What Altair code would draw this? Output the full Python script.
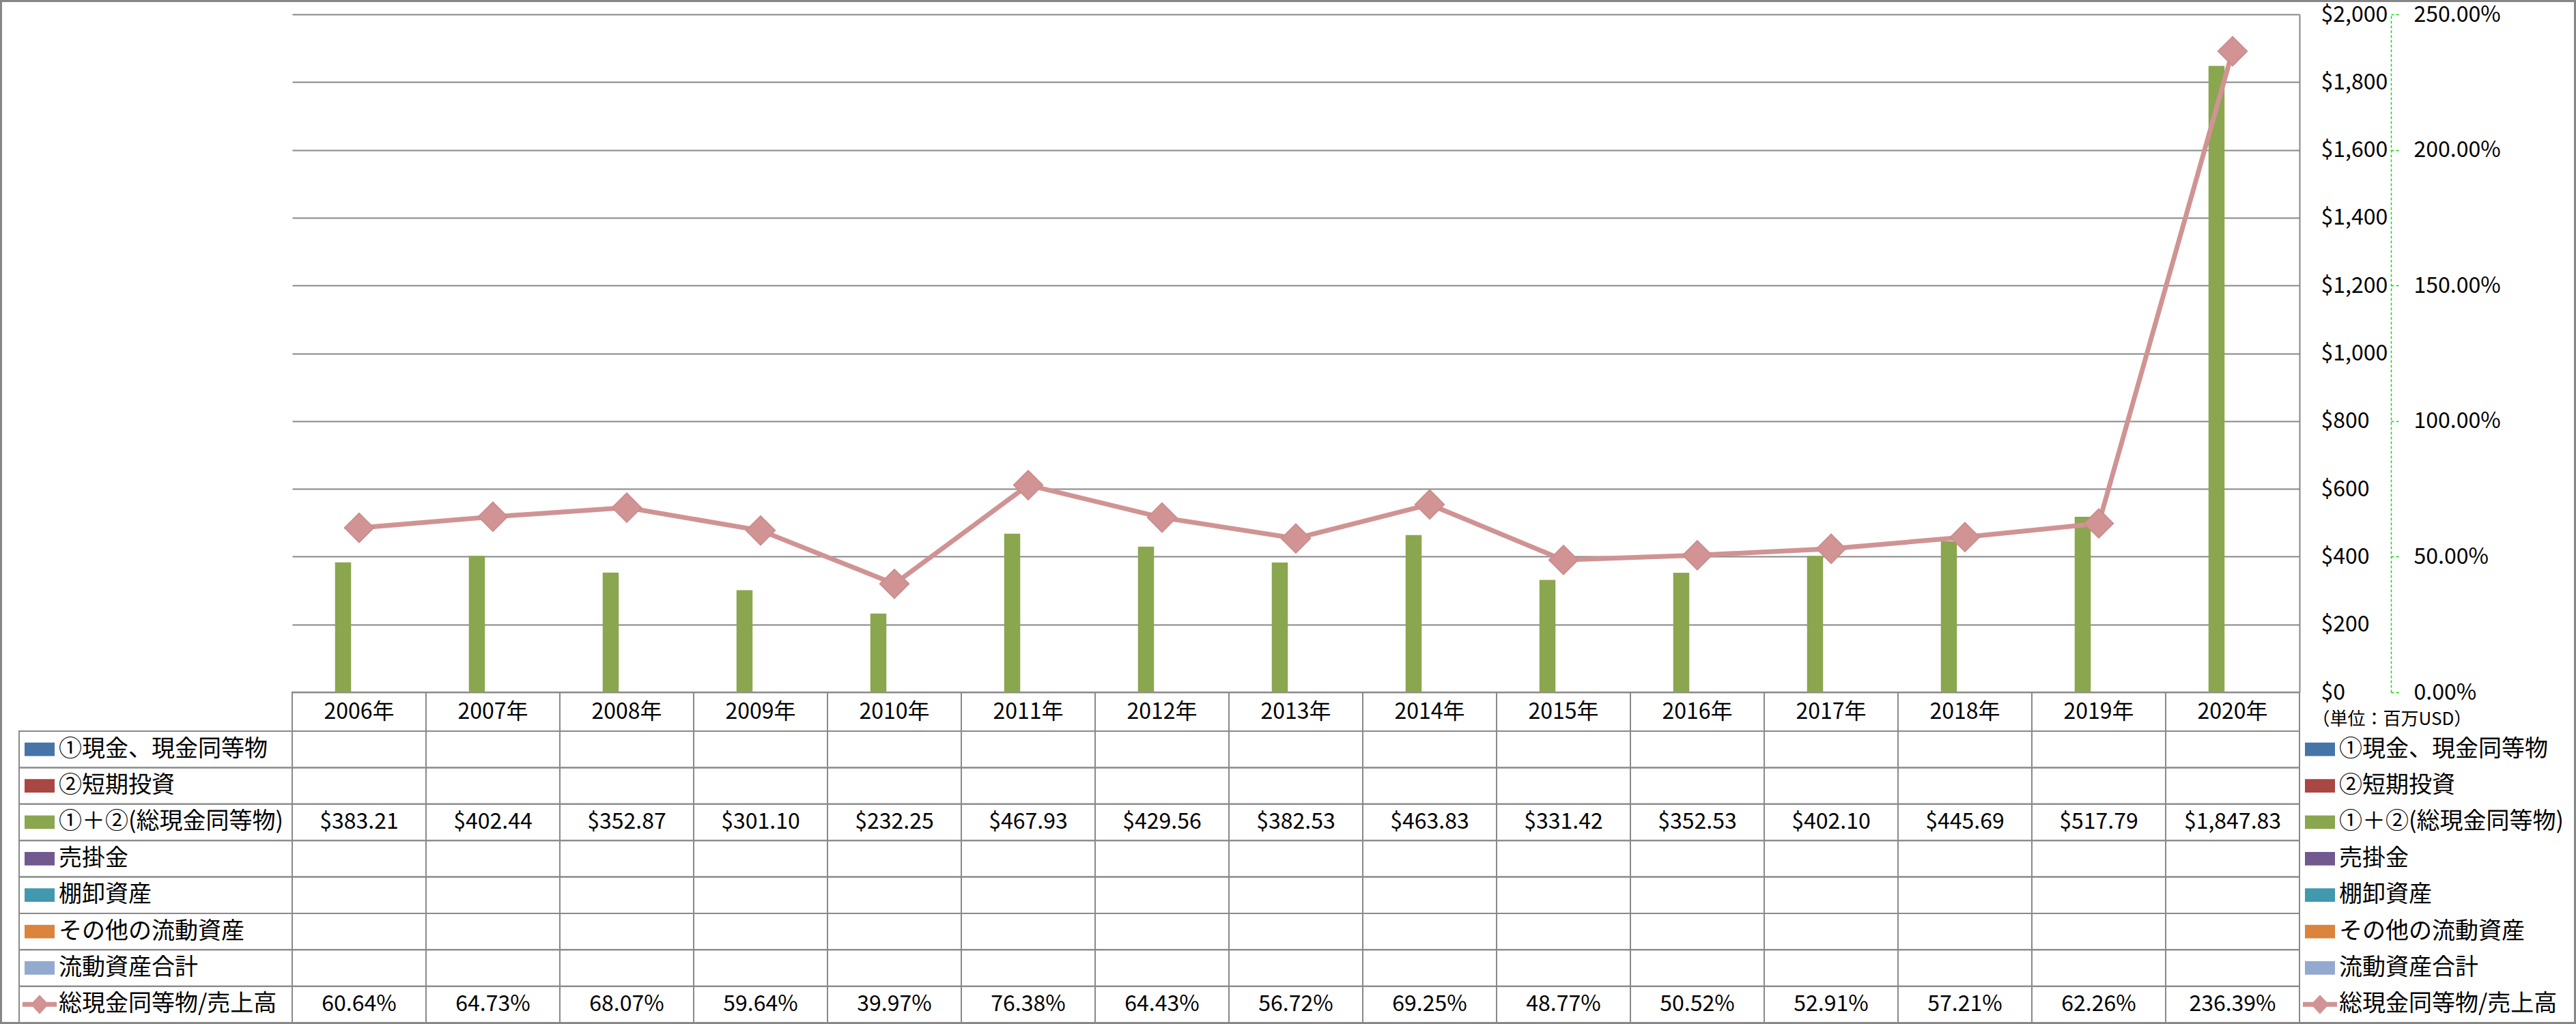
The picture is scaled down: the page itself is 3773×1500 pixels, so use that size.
import altair as alt
import pandas as pd

FONT = "Noto Sans CJK JP"

# ---- data ----
years = ["2006年", "2007年", "2008年", "2009年", "2010年", "2011年", "2012年", "2013年",
         "2014年", "2015年", "2016年", "2017年", "2018年", "2019年", "2020年"]
series = ["①現金、現金同等物", "②短期投資", "①＋②(総現金同等物)", "売掛金", "棚卸資産",
          "その他の流動資産", "流動資産合計", "総現金同等物/売上高"]
colors = ["#4673A8", "#AA4643", "#8AA64F", "#71588F", "#4198AF", "#DB843D", "#93A9CF", "#D19393"]
total_cash = [383.21, 402.44, 352.87, 301.10, 232.25, 467.93, 429.56, 382.53,
              463.83, 331.42, 352.53, 402.10, 445.69, 517.79, 1847.83]
ratio_pct = [60.64, 64.73, 68.07, 59.64, 39.97, 76.38, 64.43, 56.72,
             69.25, 48.77, 50.52, 52.91, 57.21, 62.26, 236.39]
cash_ticks = [0, 200, 400, 600, 800, 1000, 1200, 1400, 1600, 1800, 2000]
ratio_ticks = [0, 0.5, 1.0, 1.5, 2.0, 2.5]
unit_label = "（単位：百万USD）"
header_key = ["年度"]
label_col = ["項目"]
key_sides = ["L", "R"]
frame_key = ["枠"]

bar_series = series[:7]
cash_series = series[2]
ratio_series = series[7]

# ---- tables built from the arrays ----
df_bar = pd.DataFrame({"year": years, "series": cash_series, "value": total_cash})
df_ratio = pd.DataFrame({"year": years, "ratio": [p / 100 for p in ratio_pct]})
df_cells = pd.DataFrame([{"year": y, "series": s} for s in series for y in years])
df_head = pd.DataFrame({"year": years, "hdr": header_key[0]})
df_labcells = pd.DataFrame({"series": series, "col": label_col[0]})
df_keys = pd.DataFrame([{"series": s, "side": k} for k in key_sides for s in series])
df_vals = pd.DataFrame(
    [{"year": y, "series": cash_series, "label": f"${v:,.2f}"} for y, v in zip(years, total_cash)]
    + [{"year": y, "series": ratio_series, "label": f"{v:.2f}%"} for y, v in zip(years, ratio_pct)]
)
df_frame = pd.DataFrame({"f": frame_key})

# ---- geometry (plot area 2940 x 993, table below) ----
W, H = 2940, 1477
PLOT_H = 993
HEAD_B = 1050

GRID = "#878787"
LINE_C = "#898989"


def xyear():
    return alt.X("year:N", scale=alt.Scale(domain=years, paddingInner=0, paddingOuter=0), axis=None)


def yrows():
    return alt.Y("series:N", scale=alt.Scale(domain=series, range=[HEAD_B, H], paddingInner=0, paddingOuter=0), axis=None)


Y_CASH = alt.Scale(domain=[0, 2000], range=[PLOT_H, 0], nice=False, zero=True)
Y_RATIO = alt.Scale(domain=[0, 2.5], range=[PLOT_H, 0], nice=False, zero=True)

cash_axis = alt.Axis(
    orient="right", values=cash_ticks, format="$,.0f",
    grid=True, gridColor=GRID, gridWidth=2,
    domain=True, domainColor=GRID, domainWidth=2,
    ticks=False, tickSize=0,
    labelAlign="left", labelPadding=31, labelFontSize=32, labelColor="#000000", labelFont=FONT,
    title=unit_label, titleAngle=0, titleAlign="left", titleBaseline="middle",
    titleX=18, titleY=1032, titleFontSize=26, titleFontWeight="normal", titleFont=FONT,
    titleColor="#000000",
)
ratio_axis = alt.Axis(
    orient="right", offset=134, values=ratio_ticks, format=".2%",
    grid=False,
    domain=True, domainColor="#00E000", domainDash=[4, 3], domainWidth=1.5,
    ticks=True, tickColor="#00E000", tickDash=[4, 3], tickSize=11, tickWidth=1.5,
    labelAlign="left", labelPadding=22, labelFontSize=32, labelColor="#000000", labelFont=FONT,
    title=None,
)

frame = alt.Chart(df_frame).mark_rect(fillOpacity=0, stroke="#868686", strokeWidth=3).encode(
    x=alt.X("f:N", scale=alt.Scale(domain=frame_key, range=[-426.5, 3343.5], paddingInner=0, paddingOuter=0), axis=None),
    y=alt.Y("f:N", scale=alt.Scale(domain=frame_key, range=[-19.5, 1477.5], paddingInner=0, paddingOuter=0), axis=None),
)

cells = alt.Chart(df_cells).mark_rect(fillOpacity=0, stroke=LINE_C, strokeWidth=2).encode(
    x=xyear(), y=yrows()
)

head_cells = alt.Chart(df_head).mark_rect(fillOpacity=0, stroke=LINE_C, strokeWidth=2).encode(
    x=xyear(),
    y=alt.Y("hdr:N", scale=alt.Scale(domain=header_key, range=[PLOT_H, HEAD_B], paddingInner=0, paddingOuter=0), axis=None),
)

head_text = alt.Chart(df_head).mark_text(fontSize=32, font=FONT, color="#000000", baseline="middle").encode(
    x=xyear(),
    y=alt.Y("hdr:N", scale=alt.Scale(domain=header_key, range=[PLOT_H, HEAD_B], paddingInner=0, paddingOuter=0), axis=None),
    text="year:N",
)

lab_cells = alt.Chart(df_labcells).mark_rect(fillOpacity=0, stroke=LINE_C, strokeWidth=2).encode(
    x=alt.X("col:N", scale=alt.Scale(domain=label_col, range=[-400, 0], paddingInner=0, paddingOuter=0), axis=None),
    y=yrows(),
)

RECT_KEY = "M-1,-0.45H1V0.45H-1Z"
LINE_KEY = "M-1.14,-0.16H1.14V0.16H-1.14Z M-0.6,0L0,-0.64L0.6,0L0,0.64Z"

keys = alt.Chart(df_keys).mark_point(filled=True, opacity=1, size=1936, strokeWidth=0).encode(
    x=alt.X("side:N", scale=alt.Scale(type="point", domain=key_sides, range=[-370, 2970], padding=0), axis=None),
    y=yrows(),
    shape=alt.Shape("series:N", scale=alt.Scale(domain=series, range=[RECT_KEY] * 7 + [LINE_KEY]), legend=None),
    color=alt.Color("series:N", scale=alt.Scale(domain=series, range=colors), legend=None),
)

key_text = alt.Chart(df_keys).mark_text(align="left", baseline="middle", fontSize=34, font=FONT, color="#000000").encode(
    x=alt.X("side:N", scale=alt.Scale(type="point", domain=key_sides, range=[-342, 2998], padding=0), axis=None),
    y=yrows(),
    text="series:N",
)

bars = alt.Chart(df_bar).mark_bar(color=colors[2]).encode(
    x=xyear(),
    xOffset=alt.XOffset("series:N", scale=alt.Scale(domain=bar_series, paddingInner=0, paddingOuter=0.67)),
    y=alt.Y("value:Q", scale=Y_CASH, axis=cash_axis),
)

line = alt.Chart(df_ratio).mark_line(color="#D09393", strokeWidth=7).encode(
    x=xyear(),
    y=alt.Y("ratio:Q", scale=Y_RATIO, axis=ratio_axis),
)

points = alt.Chart(df_ratio).mark_point(
    shape="diamond", filled=True, size=1850, color="#D19393", opacity=1, stroke="#C98B8B", strokeWidth=1.5
).encode(
    x=xyear(),
    y=alt.Y("ratio:Q", scale=Y_RATIO, axis=None),
)

vals = alt.Chart(df_vals).mark_text(fontSize=32, font=FONT, color="#000000", baseline="middle").encode(
    x=xyear(), y=yrows(), text="label:N"
)

chart = alt.layer(
    frame, cells, head_cells, lab_cells, bars, line, points, head_text, vals, keys, key_text
).resolve_scale(
    x="independent", y="independent"
).properties(
    width=W, height=H,
    autosize=alt.AutoSizeParams(type="none"),
    padding={"left": 428, "top": 21, "right": 405, "bottom": 2},
    background="#FFFFFF",
).configure(font=FONT).configure_view(strokeWidth=0)

chart.save("out.html", embed_options={"renderer": "svg", "actions": False})
